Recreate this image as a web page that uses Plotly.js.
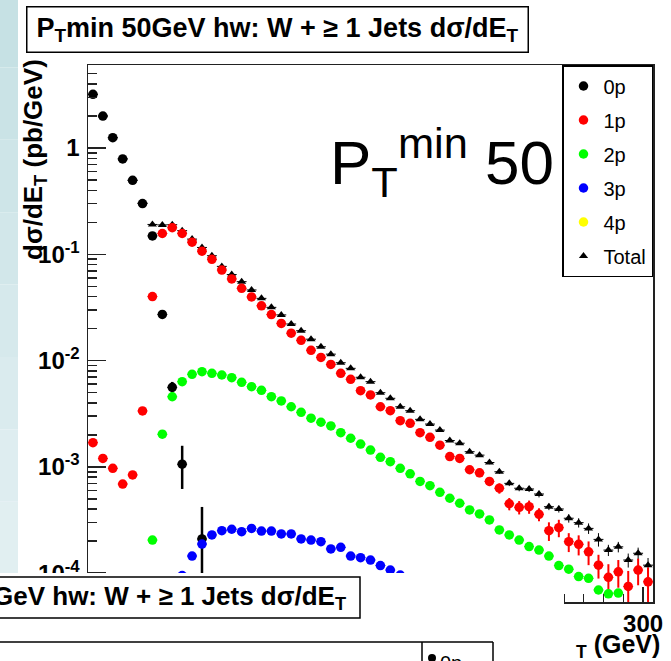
<!DOCTYPE html>
<html>
<head>
<meta charset="utf-8">
<script src="https://cdn.plot.ly/plotly-3.0.1.min.js"></script>
<style>html,body{margin:0;padding:0;background:#fff;}#plot{width:671px;height:661px;}</style>
</head>
<body>
<div id="plot"></div>
<script>
// Bin centres (E_T, GeV)
const ET = [22.5,27.5,32.5,37.5,42.5,47.5,52.5,57.5,62.5,67.5,72.5,77.5,82.5,87.5,92.5,97.5,
  102.5,107.5,112.5,117.5,122.5,127.5,132.5,137.5,142.5,147.5,152.5,157.5,162.5,167.5,172.5,177.5,
  182.5,187.5,192.5,197.5,202.5,207.5,212.5,217.5,222.5,227.5,232.5,237.5,242.5,247.5,252.5,257.5,
  262.5,267.5,272.5,277.5,282.5,287.5,292.5,297.5,302.5];

// 0 parton
const p0 = [3.2,2.0,1.25,0.79,0.497,0.30,0.149,0.0272,0.0056,0.00106,null,0.00021,null,null,null,null,
  null,null,null,null,null,null,null,null,null,null,null,null,null,null,null,null,
  null,null,null,null,null,null,null,null,null,null,null,null,null,null,null,null,
  null,null,null,null,null,null,null,null,null];
const p0ErrUp = [0,0,0,0,0,0,0.004,0.002,0.0007,0.00052,0,0.00021,0,0,0,0,
  0,0,0,0,0,0,0,0,0,0,0,0,0,0,0,0,0,0,0,0,0,0,0,0,0,0,0,0,0,0,0,0,0,0,0,0,0,0,0,0,0];
const p0ErrDn = [0,0,0,0,0,0,0.004,0.002,0.0006,0.00044,0,0.00018,0,0,0,0,
  0,0,0,0,0,0,0,0,0,0,0,0,0,0,0,0,0,0,0,0,0,0,0,0,0,0,0,0,0,0,0,0,0,0,0,0,0,0,0,0,0];

// 1 parton
const p1 = [0.00169,0.00120,0.00097,0.00069,0.00084,0.00336,0.040,0.157,0.178,0.157,0.130,0.107,0.0897,0.0711,0.0586,0.0479,
  0.0397,0.0328,0.0271,0.0224,0.0181,0.0155,0.0125,0.0107,0.0092,0.0076,0.00667,0.00521,0.00475,0.00368,0.00338,0.00272,
  0.00257,0.0021,0.0019,0.0016,0.00125,0.0012,0.00094,0.00088,0.00073,0.00063,0.00045,0.000417,0.000422,0.000358,0.000251,0.000268,
  0.000198,0.000187,0.000159,0.000119,0.0000915,0.000103,0.000075,0.000107,0.000083];
const p1Err = [0,0,0,0,0,0,0,0,0,0,0,0,0,0,0,0,
  0,0,0,0,0,0,0,0,0,0,0,0,0,0,0,0,
  0,0,0.0001,0.0001,0.00009,0.00009,0.00008,0.00008,0.00007,0.00007,0.00006,0.00006,0.00006,0.00005,0.00005,0.00005,
  0.00004,0.00004,0.00004,0.00003,0.00003,0.00003,0.00003,0.00003,0.00003];

// 2 partons
const p2 = [null,null,null,null,null,null,0.000205,0.00203,0.00457,0.00634,0.00743,0.00787,0.00759,0.00732,0.0069,0.00625,
  0.00569,0.00525,0.00458,0.00417,0.00368,0.00326,0.00287,0.00263,0.00243,0.0021,0.00186,0.00164,0.00144,0.00123,0.00112,0.00097,
  0.00086,0.00073,0.000665,0.000577,0.000507,0.000455,0.000394,0.000361,0.000317,0.000255,0.000229,0.000205,0.000178,0.000165,0.000145,0.000118,
  0.000109,0.000093,0.0000895,0.0000695,0.000064,0.000065,null,null,null];

// 3 partons
const p3 = [null,null,null,null,null,null,null,null,null,0.000095,0.000145,0.000188,0.000229,0.000251,0.000259,0.000246,
  0.000264,0.000249,0.000249,0.000234,0.000234,0.00021,0.000205,0.000198,0.000169,0.000175,0.000145,0.00014,0.000133,0.000118,0.000107,0.000096,
  null,null,null,null,null,null,null,null,null,null,null,null,null,null,null,null,
  null,null,null,null,null,null,null,null,null];

// 4 partons (no visible points in the frame)
const p4 = [null,null,null,null,null,null,null,null,null,null,null,null,null,null,null,null,
  null,null,null,null,null,null,null,null,null,null,null,null,null,null,null,null,
  null,null,null,null,null,null,null,null,null,null,null,null,null,null,null,null,
  null,null,null,null,null,null,null,null,null];

// Total
const tot = [3.2,2.0,1.25,0.79,0.497,0.303,0.191,0.189,0.19,0.167,0.139,0.116,0.097,0.077,0.0645,0.0553,
  0.0462,0.0385,0.0317,0.0269,0.0221,0.0191,0.0159,0.0135,0.0115,0.00955,0.00846,0.00697,0.00634,0.00499,0.00442,0.00368,
  0.00338,0.0028,0.00253,0.00222,0.00177,0.00167,0.00139,0.00129,0.0011,0.0009,0.0007,0.00063,0.00062,0.000556,0.000422,0.000402,
  0.000329,0.000299,0.000264,0.000208,0.000165,0.000177,0.000133,0.000154,0.000119];
const totErr = [0,0,0,0,0,0,0.004,0.003,0.002,0.0015,0.001,0.0008,0.0006,0.0005,0.0004,0.0003,
  0.00025,0.0002,0.00018,0.00015,0.00013,0.00011,0.0001,0.00009,0.00008,0.00007,0.00006,0.00005,0.00005,0.00004,0.00004,0.00004,
  0.00004,0.00004,0.00004,0.00004,0.00004,0.00004,0.00004,0.00004,0.00004,0.00004,0.00004,0.00004,0.00004,0.00004,0.00003,0.00003,
  0.00003,0.00003,0.00003,0.00003,0.00002,0.00002,0.00002,0.00002,0.00002];

const seriesNames = ['0p','1p','2p','3p','4p','Total'];
const yTickVals = [1e-4,1e-3,1e-2,1e-1,1];
const yTickText = ['10<sup>-4</sup>','10<sup>-3</sup>','10<sup>-2</sup>','10<sup>-1</sup>','1'];

// ---------- geometry (pixels -> paper) ----------
const L=88, R=653, T=65, B=602, W=R-L, H=B-T;
const px = x => (x-L)/W;
const py = y => (B-y)/H;
const FONT = 'Liberation Sans, Arial, Helvetica, sans-serif';

const minorY = [];
for (let e=-5; e<=0; e++) for (let m=2; m<=9; m++) minorY.push(m*Math.pow(10,e));

const ex = {type:'constant', value:2.5, width:0, thickness:1, color:'#000'};
function tr(name, y, color, symbol, size, rank, ey) {
  const t = {
    type:'scatter', mode:'markers', name:name, x: ET, y:y,
    legendgroup:name, legendrank:rank,
    marker:{color:color, symbol:symbol, size:size, line:{width:0}},
    error_x: Object.assign({}, ex, {color:color}),
    cliponaxis:true
  };
  if (ey) t.error_y = ey;
  return t;
}

const traces = [
  tr(seriesNames[5], tot, '#000000', 'triangle-up', 8, 6,
     {type:'data', array:totErr, visible:true, width:0, thickness:1, color:'#000'}),
  tr(seriesNames[0], p0, '#000000', 'circle', 9.5, 1,
     {type:'data', array:p0ErrUp, arrayminus:p0ErrDn, visible:true, width:0, thickness:2.5, color:'#000'}),
  tr(seriesNames[1], p1, '#ff0000', 'circle', 9.5, 2,
     {type:'data', array:p1Err, visible:true, width:0, thickness:2, color:'#ff0000'}),
  tr(seriesNames[2], p2, '#00ff00', 'circle', 9.5, 3),
  tr(seriesNames[3], p3, '#0000ff', 'circle', 9.5, 4),
  tr(seriesNames[4], p4, '#ffff00', 'circle', 9.5, 5)
];

const black = {color:'#000', width:1.5};

// slide background strip (stepped gradient, top darker)
const stripColors = ['#c6e1e4','#cae3e6','#cee5e8','#d2e7ea','#d6e9ec','#daebee','#deedf0','#e1eff1'];
const stripShapes = stripColors.map((c, i) => ({
  type:'rect', xref:'paper', yref:'paper', x0:px(-5), x1:px(18),
  y0:py(-5 + (i+1)*579/stripColors.length), y1:py(-5 + i*579/stripColors.length),
  fillcolor:c, line:{width:0}, layer:'below'}));

const layout = {
  width:671, height:661,
  margin:{l:L, r:671-R, t:T, b:661-B, pad:0},
  paper_bgcolor:'#ffffff', plot_bgcolor:'#ffffff',
  font:{family:FONT, color:'#000'},
  showlegend:true,
  legend:{x:1, xanchor:'right', y:1, yanchor:'top', bgcolor:'#ffffff', bordercolor:'#000', borderwidth:1.5,
    font:{family:FONT, size:20, color:'#000'}, traceorder:'grouped', tracegroupgap:5, itemwidth:30},
  xaxis:{type:'linear', range:[20,305], showgrid:false, zeroline:false,
    showline:true, mirror:true, linecolor:'#222', linewidth:1.5,
    ticks:'inside', ticklen:15, tickwidth:1.5, tickcolor:'#222', tickmode:'linear', tick0:0, dtick:50,
    minor:{ticks:'inside', ticklen:8, tickwidth:1.5, tickcolor:'#222', dtick:10, tick0:0},
    tickfont:{family:FONT, size:24, weight:'bold', color:'#000'}, ticklabelstandoff:0},
  yaxis:{type:'log', range:[-4.271, 0.781], showgrid:false, zeroline:false,
    showline:true, mirror:true, linecolor:'#222', linewidth:1.5,
    ticks:'inside', ticklen:18, tickwidth:1.5, tickcolor:'#222',
    tickmode:'array', tickvals:yTickVals, ticktext:yTickText,
    minor:{ticks:'inside', ticklen:9, tickwidth:1.5, tickcolor:'#222', tickmode:'array', tickvals:minorY},
    tickfont:{family:FONT, size:24, weight:'bold', color:'#000'}, ticklabelstandoff:2},
  shapes: stripShapes.concat([
    {type:'rect', xref:'paper', yref:'paper', x0:px(-20), x1:px(564), y0:py(700), y1:py(573),
     fillcolor:'#ffffff', line:{width:0}, layer:'above'},
    {type:'rect', xref:'paper', yref:'paper', x0:px(-20), x1:px(360), y0:py(618), y1:py(577),
     fillcolor:'#ffffff', line:black, layer:'above'},
    {type:'line', xref:'paper', yref:'paper', x0:px(-20), x1:px(493), y0:py(642), y1:py(642), line:black, layer:'above'},
    {type:'line', xref:'paper', yref:'paper', x0:px(422), x1:px(422), y0:py(642), y1:py(700), line:black, layer:'above'},
    {type:'line', xref:'paper', yref:'paper', x0:px(493), x1:px(493), y0:py(642), y1:py(700), line:black, layer:'above'},
    {type:'circle', xref:'paper', yref:'paper', x0:px(428), x1:px(436), y0:py(662), y1:py(654),
     fillcolor:'#000', line:{width:0}, layer:'above'}
  ]),
  annotations:[
    {text:'P<sub>T</sub>min 50GeV hw: W + ≥ 1 Jets dσ/dE<sub>T</sub>', xref:'paper', yref:'paper',
     x:px(26), xanchor:'left', y:py(6), yanchor:'top', showarrow:false, width:490, align:'center',
     bgcolor:'#ffffff', bordercolor:'#000', borderwidth:1.5, borderpad:5,
     font:{family:FONT, size:27, weight:'bold', color:'#000'}},
    {text:'dσ/dE<sub>T</sub> (pb/GeV)', xref:'paper', yref:'paper', textangle:-90,
     x:px(34), xanchor:'center', y:py(160), yanchor:'middle', showarrow:false,
     font:{family:FONT, size:26, weight:'bold', color:'#000'}},
    {text:'P<sub>T</sub><sup>min</sup> 50', xref:'paper', yref:'paper',
     x:px(328), xanchor:'left', y:py(162), yanchor:'middle', showarrow:false,
     font:{family:FONT, size:62, color:'#000'}},
    {text:'<sub>T</sub> (GeV)', xref:'paper', yref:'paper',
     x:px(662), xanchor:'right', y:py(646), yanchor:'middle', showarrow:false,
     font:{family:FONT, size:25, weight:'bold', color:'#000'}},
    {text:'GeV hw: W + ≥ 1 Jets dσ/dE<sub>T</sub>', xref:'paper', yref:'paper',
     x:px(348), xanchor:'right', y:py(597), yanchor:'middle', showarrow:false,
     font:{family:FONT, size:26, weight:'bold', color:'#000'}},
    {text:'0p', xref:'paper', yref:'paper',
     x:px(438), xanchor:'left', y:py(650), yanchor:'top', showarrow:false,
     font:{family:FONT, size:20, color:'#000'}}
  ]
};

Plotly.newPlot('plot', traces, layout, {staticPlot:true, displayModeBar:false});
</script>
</body>
</html>
